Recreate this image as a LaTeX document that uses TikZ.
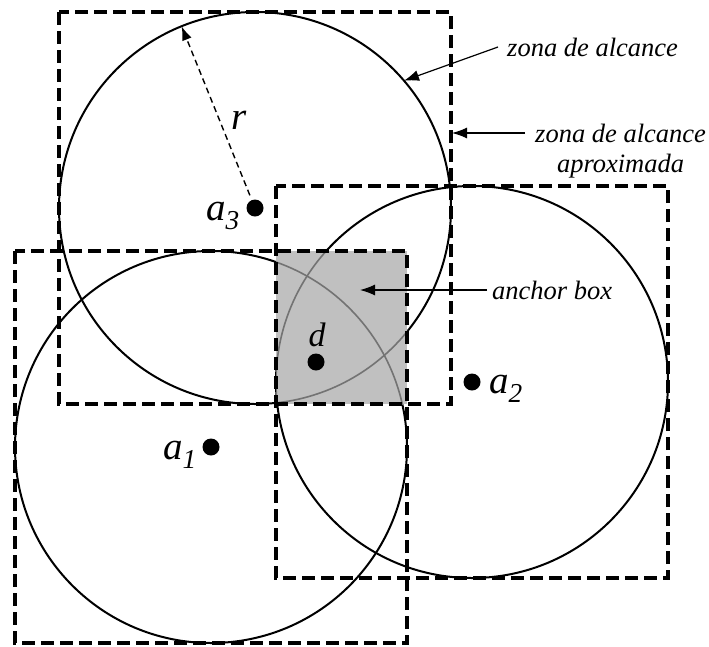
\documentclass[tikz,border=0pt]{standalone}
\usepackage{fontspec}
\setmainfont{Liberation Serif}
\usetikzlibrary{arrows.meta}
\definecolor{boxgray}{RGB}{192,192,192}
\definecolor{arcgray}{RGB}{115,115,115}
\tikzset{
  zone/.style={line width=2pt},
  approx/.style={line width=3.2pt, dash pattern=on 13pt off 6pt},
  innerarc/.style={line width=1.6pt, draw=arcgray},
  pointer/.style={line width=1.2pt, -{Latex[length=15pt,width=11pt]}},
  radline/.style={line width=1.4pt, dash pattern=on 6pt off 4pt, -{Latex[length=14pt,width=10pt]}, shorten <=5pt},
  lbl/.style={font=\fontsize{26.5}{30}\selectfont\itshape, inner sep=0pt},
  biglbl/.style={font=\fontsize{39}{42}\selectfont\itshape, inner sep=0pt},
  dlbl/.style={font=\fontsize{34}{38}\selectfont\itshape, inner sep=0pt},
  dot/.style={circle, fill=black, minimum size=17pt, inner sep=0pt},
}
\begin{document}
\begin{tikzpicture}[x=1pt,y=-1pt]
\useasboundingbox (0,0) rectangle (709,646);
% centres
\coordinate (c1) at (211,447);
\coordinate (c2) at (472,382);
\coordinate (c3) at (255,208);
% range circles
\draw[zone] (c1) circle[radius=196pt];
\draw[zone] (c2) circle[radius=196pt];
\draw[zone] (c3) circle[radius=196pt];
% anchor box
\fill[boxgray] (276,251) rectangle (407,404);
\begin{scope}
  \clip (276,251) rectangle (407,404);
  \draw[innerarc] (c1) circle[radius=196pt];
  \draw[innerarc] (c2) circle[radius=196pt];
  \draw[innerarc] (c3) circle[radius=196pt];
\end{scope}
% approximate squares
\draw[approx] (15,251) rectangle (407,643);
\draw[approx] (276,186) rectangle (668,578);
\draw[approx] (59,12) rectangle (451,404);
% anchors and the unknown node
\node[dot] (a1) at (c1) {};
\node[dot] (a2) at (c2) {};
\node[dot] (a3) at (c3) {};
\node[dot] (d) at (316,362) {};
\node[biglbl, anchor=base west] (la1) at (163,459) {a\textsubscript{1}};
\node[biglbl, anchor=base west] (la2) at (489,393) {a\textsubscript{2}};
\node[biglbl, anchor=base west] (la3) at (206,220) {a\textsubscript{3}};
\node[dlbl, anchor=base] (ld) at (317,346) {d};
% radius
\coordinate (rtip) at (181.6,26.3);
\draw[radline] (a3) -- (rtip);
\node[biglbl, anchor=base west] (lr) at (231,129) {r};
% callouts
\coordinate (t1) at (404,80.7);
\node[lbl, anchor=west, inner xsep=9pt] (zt) at (498,47) {zona de alcance};
\draw[pointer] (zt.west) -- (t1);
\coordinate (t2) at (452,133);
\node[lbl, anchor=west, inner xsep=10pt] (za1) at (525,133) {zona de alcance};
\node[lbl, anchor=base] (za2) at ([yshift=-30pt]za1.base) {aproximada};
\draw[pointer] (za1.west) -- (t2);
\coordinate (t3) at (360,290);
\node[lbl, anchor=west, inner xsep=5pt] (ab) at (487,290) {anchor box};
\draw[pointer] (ab.west) -- (t3);
\end{tikzpicture}
\end{document}
